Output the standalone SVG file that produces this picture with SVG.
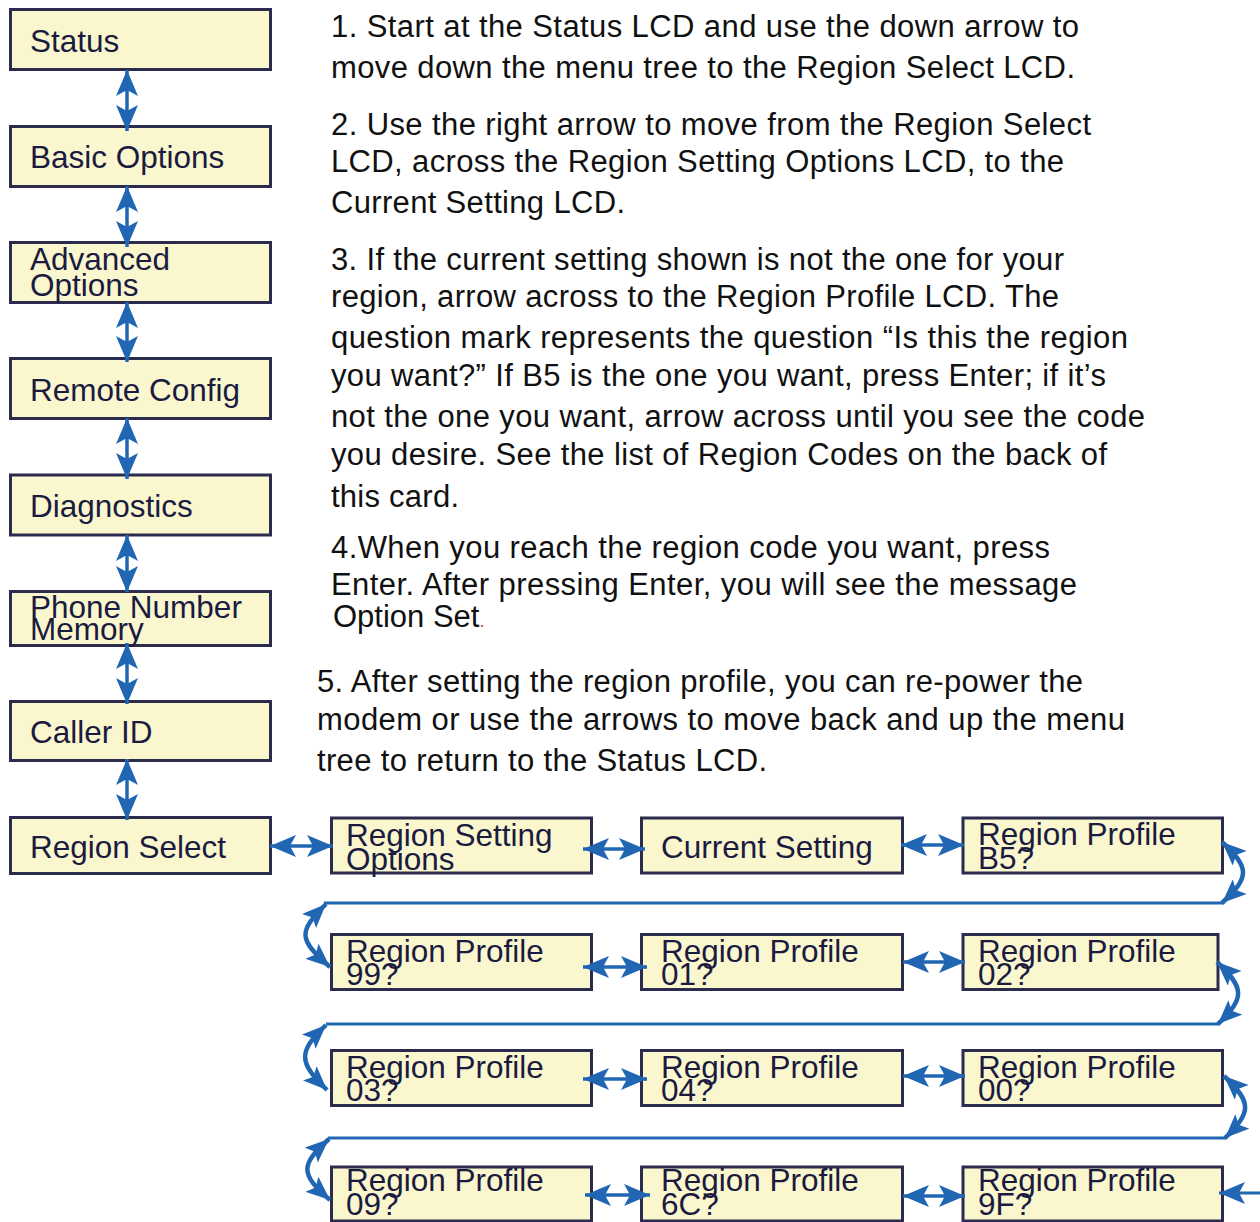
<svg xmlns="http://www.w3.org/2000/svg" width="1260" height="1222" viewBox="0 0 1260 1222">
<defs>
<marker id="ah" viewBox="0 0 26 22" refX="26" refY="11" markerWidth="26" markerHeight="22" markerUnits="userSpaceOnUse" orient="auto-start-reverse">
<path d="M26,11 L0,0 L6,11 L0,22 Z" fill="#2166b3"/>
</marker>
<marker id="ahs" viewBox="0 0 24 20" refX="24" refY="10" markerWidth="24" markerHeight="20" markerUnits="userSpaceOnUse" orient="auto-start-reverse">
<path d="M24,10 L0,0 L5,10 L0,20 Z" fill="#2166b3"/>
</marker>
</defs>
<style>
.box{fill:#faf7cf;stroke:#2b2b4d;stroke-width:3}
.lbl{font-family:"Liberation Sans",Arial,Helvetica,sans-serif;font-size:31.5px;fill:#1b1b3f}
.ins{font-family:"Liberation Sans",Arial,Helvetica,sans-serif;font-size:31px;fill:#111}
.arr{fill:none;stroke:#2166b3;stroke-width:3.5;marker-start:url(#ah);marker-end:url(#ah)}
.carr{fill:none;stroke:#2166b3;stroke-width:4.5;marker-start:url(#ahs);marker-end:url(#ahs)}
.ln{fill:none;stroke:#2166b3;stroke-width:3}
</style>
<rect width="1260" height="1222" fill="#ffffff"/>

<g id="n-status"><rect class="box" x="10.5" y="9.5" width="260" height="60"/><text class="lbl" x="30" y="52">Status</text></g>
<g id="n-basic"><rect class="box" x="10.5" y="126.5" width="260" height="60"/><text class="lbl" x="30" y="168">Basic Options</text></g>
<g id="n-advanced"><rect class="box" x="10.5" y="242.5" width="260" height="60"/><text class="lbl" x="30" y="270">Advanced</text><text class="lbl" x="30" y="296">Options</text></g>
<g id="n-remote"><rect class="box" x="10.5" y="358.5" width="260" height="60"/><text class="lbl" x="30" y="401">Remote Config</text></g>
<g id="n-diag"><rect class="box" x="10.5" y="475" width="260" height="60"/><text class="lbl" x="30" y="517">Diagnostics</text></g>
<g id="n-phone"><rect class="box" x="10.5" y="591.5" width="260" height="54"/><text class="lbl" x="30" y="618">Phone Number</text><text class="lbl" x="30" y="640">Memory</text></g>
<g id="n-caller"><rect class="box" x="10.5" y="701.5" width="260" height="59"/><text class="lbl" x="30" y="743">Caller ID</text></g>
<g id="n-regsel"><rect class="box" x="10.5" y="817.5" width="260" height="56"/><text class="lbl" x="30" y="858">Region Select</text></g>

<g id="n-regset"><rect class="box" x="331.5" y="818" width="260" height="55"/><text class="lbl" x="346" y="846">Region Setting</text><text class="lbl" x="346" y="870">Options</text></g>
<g id="n-cur"><rect class="box" x="641.5" y="818" width="261" height="55"/><text class="lbl" x="661" y="858">Current Setting</text></g>
<g id="n-b5"><rect class="box" x="963" y="818" width="259.5" height="55"/><text class="lbl" x="978" y="845">Region Profile</text><text class="lbl" x="978" y="869">B5?</text></g>

<g id="n-99"><rect class="box" x="331.5" y="934.5" width="260" height="55"/><text class="lbl" x="346" y="962">Region Profile</text><text class="lbl" x="346" y="985">99?</text></g>
<g id="n-01"><rect class="box" x="641.5" y="934.5" width="261" height="55"/><text class="lbl" x="661" y="962">Region Profile</text><text class="lbl" x="661" y="985">01?</text></g>
<g id="n-02"><rect class="box" x="963" y="934.5" width="255" height="55"/><text class="lbl" x="978" y="962">Region Profile</text><text class="lbl" x="978" y="985">02?</text></g>

<g id="n-03"><rect class="box" x="331.5" y="1050.5" width="260" height="55"/><text class="lbl" x="346" y="1078">Region Profile</text><text class="lbl" x="346" y="1101">03?</text></g>
<g id="n-04"><rect class="box" x="641.5" y="1050.5" width="261" height="55"/><text class="lbl" x="661" y="1078">Region Profile</text><text class="lbl" x="661" y="1101">04?</text></g>
<g id="n-00"><rect class="box" x="963" y="1050.5" width="259.5" height="55"/><text class="lbl" x="978" y="1078">Region Profile</text><text class="lbl" x="978" y="1101">00?</text></g>

<g id="n-09"><rect class="box" x="331.5" y="1167" width="260" height="54"/><text class="lbl" x="346" y="1191">Region Profile</text><text class="lbl" x="346" y="1215">09?</text></g>
<g id="n-6c"><rect class="box" x="641.5" y="1167" width="261" height="54"/><text class="lbl" x="661" y="1191">Region Profile</text><text class="lbl" x="661" y="1215">6C?</text></g>
<g id="n-9f"><rect class="box" x="963" y="1167" width="259.5" height="54"/><text class="lbl" x="978" y="1191">Region Profile</text><text class="lbl" x="978" y="1215">9F?</text></g>

<g id="connectors">
<line class="arr" x1="127" y1="70" x2="127" y2="131"/>
<line class="arr" x1="127" y1="186" x2="127" y2="247"/>
<line class="arr" x1="127" y1="302" x2="127" y2="362"/>
<line class="arr" x1="127" y1="418" x2="127" y2="479"/>
<line class="arr" x1="127" y1="535" x2="127" y2="592"/>
<line class="arr" x1="127" y1="643" x2="127" y2="704"/>
<line class="arr" x1="127" y1="759" x2="127" y2="820"/>

<line class="arr" x1="270" y1="846" x2="333" y2="846"/>
<line class="arr" x1="583" y1="849" x2="645" y2="849"/>
<line class="arr" x1="901" y1="845" x2="964" y2="845"/>
<line class="arr" x1="583" y1="967" x2="647" y2="967"/>
<line class="arr" x1="903" y1="962" x2="965" y2="962"/>
<line class="arr" x1="583" y1="1079" x2="647" y2="1079"/>
<line class="arr" x1="903" y1="1076" x2="965" y2="1076"/>
<line class="arr" x1="585" y1="1195" x2="650" y2="1195"/>
<line class="arr" x1="903" y1="1196" x2="965" y2="1196"/>
<line x1="1260" y1="1193" x2="1219" y2="1193" class="ln" stroke-width="3.5" marker-end="url(#ah)"/>

<line class="ln" x1="324" y1="903" x2="1224" y2="903"/>
<path class="carr" d="M1222,842 C1250,868 1250,877 1222,903"/>
<path class="carr" d="M326,904 C298,932 298,939 330,967"/>

<line class="ln" x1="326" y1="1024" x2="1220" y2="1024"/>
<path class="carr" d="M1217,962 C1245,988 1245,998 1218,1024"/>
<path class="carr" d="M326,1025 C298,1052 298,1062 327,1090"/>

<line class="ln" x1="328" y1="1138" x2="1227" y2="1138"/>
<path class="carr" d="M1224,1076 C1252,1102 1252,1112 1225,1138"/>
<path class="carr" d="M329,1139 C300,1165 300,1174 330,1200"/>
</g>

<g id="instructions">
<text class="ins" x="331" y="37" textLength="748" lengthAdjust="spacing">1. Start at the Status LCD and use the down arrow to</text>
<text class="ins" x="331" y="78" textLength="744" lengthAdjust="spacing">move down the menu tree to the Region Select LCD.</text>
<text class="ins" x="331" y="135" textLength="760" lengthAdjust="spacing">2. Use the right arrow to move from the Region Select</text>
<text class="ins" x="331" y="172" textLength="733" lengthAdjust="spacing">LCD, across the Region Setting Options LCD, to the</text>
<text class="ins" x="331" y="213" textLength="294" lengthAdjust="spacing">Current Setting LCD.</text>
<text class="ins" x="331" y="270" textLength="733" lengthAdjust="spacing">3. If the current setting shown is not the one for your</text>
<text class="ins" x="331" y="307" textLength="728" lengthAdjust="spacing">region, arrow across to the Region Profile LCD. The</text>
<text class="ins" x="331" y="348" textLength="797" lengthAdjust="spacing">question mark represents the question “Is this the region</text>
<text class="ins" x="331" y="386" textLength="775" lengthAdjust="spacing">you want?” If B5 is the one you want, press Enter; if it’s</text>
<text class="ins" x="331" y="427" textLength="814" lengthAdjust="spacing">not the one you want, arrow across until you see the code</text>
<text class="ins" x="331" y="465" textLength="776" lengthAdjust="spacing">you desire. See the list of Region Codes on the back of</text>
<text class="ins" x="331" y="507" textLength="128" lengthAdjust="spacing">this card.</text>
<text class="ins" x="331" y="558" textLength="719" lengthAdjust="spacing">4.When you reach the region code you want, press</text>
<text class="ins" x="331" y="595" textLength="746" lengthAdjust="spacing">Enter. After pressing Enter, you will see the message</text>
<text class="ins" x="333" y="627">Option Set<tspan fill="#a0522d" font-size="18">.</tspan></text>
<text class="ins" x="317" y="692" textLength="766" lengthAdjust="spacing">5. After setting the region profile, you can re-power the</text>
<text class="ins" x="317" y="730" textLength="808" lengthAdjust="spacing">modem or use the arrows to move back and up the menu</text>
<text class="ins" x="317" y="771" textLength="450" lengthAdjust="spacing">tree to return to the Status LCD.</text>
</g>
</svg>
